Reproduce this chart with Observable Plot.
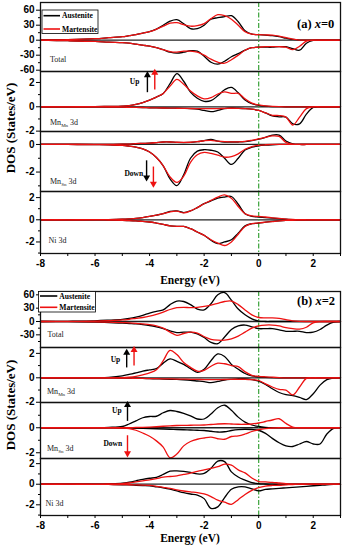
<!DOCTYPE html>
<html><head><meta charset="utf-8">
<script src="https://cdn.jsdelivr.net/npm/d3@7"></script>
<script src="https://cdn.jsdelivr.net/npm/@observablehq/plot@0.6"></script>
<style>
body{margin:0;background:#fff;}
#fig{position:relative;width:348px;height:550px;overflow:hidden;background:#fff;}
#fig svg{position:absolute;left:0;}
</style></head><body><div id="fig"></div>
<script>
// Energy grid (eV)
const energy = [-8,-7,-6,-5.5,-5,-4.75,-4.5,-4.25,-4,-3.75,-3.5,-3.25,-3,-2.75,-2.5,-2.25,-2,-1.75,-1.5,-1.25,-1,-0.75,-0.5,-0.25,0,0.25,0.5,0.75,1,1.25,1.5,1.75,2,2.25,2.5,2.75,3];
const xTicks = [-8,-7,-6,-5,-4,-3,-2,-1,0,1,2,3];

// (a) x=0 — Total
const aTotUpAus = [0,1,3,5,7,9,11,14,17,22,30,38,41,33,23,23,30,42,45,47,49,37,19,12,11,10,9,7,4,1.5,0.3,0,0,0,0,0,0];
const aTotUpMar = [0,1,3,5,7,9,11,14,17,22,28,34,35,31,28,29,33,43,51,49,42,30,17,12,11,10.5,10,8,5,2,0.3,0,0,0,0,0,0];
const aTotDnAus = [0,-1,-2.5,-4,-5,-6,-8,-10,-12,-15,-19,-24,-26,-24,-21,-22,-32,-44,-48,-42,-33,-27,-20,-15,-14,-14,-14,-13,-13,-17,-20,-6,-0.5,0,0,0,0];
const aTotDnMar = [0,-1,-2.5,-4,-5,-6,-8,-10,-12,-15,-19,-23,-24,-22,-22,-24,-30,-38,-44,-46,-39,-30,-20,-15,-14,-13,-13,-13,-14,-19,-12,-2,0,0,0,0,0];
// (a) Mn_Mn 3d
const aMMUpAus = [0,0,0.01,0.03,0.06,0.1,0.2,0.35,0.55,0.8,1.1,1.9,2.72,2.1,1.2,0.7,0.45,0.5,0.9,1.4,1.6,1.15,0.55,0.25,0.12,0.05,0.02,0.01,0,0,0,0,0,0,0,0,0];
const aMMUpMar = [0,0,0.01,0.03,0.06,0.1,0.2,0.35,0.55,0.8,1.1,1.7,2.25,1.85,1.3,0.9,0.65,0.75,1.05,1.22,1.1,1.1,0.65,0.3,0.15,0.07,0.03,0.01,0,0,0,0,0,0,0,0,0];
const aMMDnAus = [0,0,0,-0.02,-0.03,-0.04,-0.05,-0.06,-0.08,-0.09,-0.1,-0.11,-0.12,-0.13,-0.15,-0.2,-0.3,-0.4,-0.3,-0.15,-0.1,-0.12,-0.15,-0.2,-0.3,-0.5,-0.75,-0.82,-0.85,-1.4,-1.4,-0.6,-0.05,0,0,0,0];
const aMMDnMar = [0,0,0,-0.02,-0.03,-0.04,-0.05,-0.06,-0.08,-0.09,-0.1,-0.11,-0.12,-0.13,-0.14,-0.15,-0.15,-0.15,-0.15,-0.13,-0.12,-0.13,-0.15,-0.2,-0.3,-0.5,-0.7,-0.72,-0.85,-1.5,-0.85,-0.15,0,0,0,0,0];
// (a) Mn_Sn 3d
const aMSUpAus = [0,0,0,0.01,0.02,0.03,0.06,0.08,0.1,0.14,0.18,0.18,0.15,0.14,0.15,0.2,0.28,0.36,0.25,0.18,0.18,0.18,0.2,0.28,0.38,0.52,0.68,0.68,0.25,0.05,0,0,0,0,0,0,0];
const aMSUpMar = [0,0,0,0.01,0.02,0.03,0.06,0.08,0.1,0.14,0.18,0.18,0.16,0.15,0.16,0.2,0.27,0.3,0.24,0.2,0.19,0.19,0.22,0.3,0.4,0.52,0.62,0.58,0.15,0.02,0,0,0,0,0,0,0];
const aMSDnAus = [0,0,-0.01,-0.02,-0.06,-0.12,-0.2,-0.32,-0.55,-0.95,-1.55,-2.5,-2.98,-2.2,-1.0,-0.48,-0.38,-0.42,-0.55,-1.0,-1.45,-1.0,-0.4,-0.2,-0.1,-0.05,-0.02,0,0,0,0,0,0,0,0,0,0];
const aMSDnMar = [0,0,-0.01,-0.02,-0.06,-0.12,-0.2,-0.32,-0.55,-0.95,-1.55,-2.35,-2.75,-2.3,-1.3,-0.75,-0.58,-0.65,-0.78,-0.92,-0.88,-0.68,-0.35,-0.15,-0.06,-0.02,0,0,0,0,0,0,0,0,0,0,0];
// (a) Ni 3d
const aNiUpAus = [0,0,0.01,0.02,0.05,0.08,0.12,0.2,0.3,0.42,0.55,0.75,0.8,0.65,0.8,1.1,1.45,1.7,1.95,2.05,2.1,1.4,0.55,0.3,0.25,0.2,0.15,0.1,0.05,0.02,0,0,0,0,0,0,0];
const aNiUpMar = [0,0,0.01,0.02,0.05,0.08,0.12,0.2,0.3,0.42,0.55,0.72,0.78,0.62,0.8,1.1,1.45,1.75,2.05,2.25,1.95,1.2,0.55,0.35,0.3,0.25,0.18,0.12,0.06,0.03,0.01,0,0,0,0,0,0];
const aNiDnAus = [0,0,-0.01,-0.02,-0.05,-0.07,-0.1,-0.15,-0.2,-0.3,-0.42,-0.55,-0.6,-0.6,-0.8,-1.1,-1.4,-1.85,-2.15,-2.0,-1.8,-1.2,-0.55,-0.35,-0.3,-0.22,-0.15,-0.1,-0.06,-0.04,-0.02,-0.01,0,0,0,0,0];
const aNiDnMar = [0,0,-0.01,-0.02,-0.05,-0.07,-0.1,-0.15,-0.2,-0.3,-0.42,-0.55,-0.6,-0.6,-0.8,-1.1,-1.4,-1.8,-2.1,-2.32,-2.0,-1.3,-0.6,-0.35,-0.28,-0.22,-0.16,-0.1,-0.06,-0.04,-0.02,-0.01,0,0,0,0,0];

// (b) x=2 — Total
const bTotUpAus = [0,0.5,1.5,3,5,7,10,14,19,23,26,38,46,45,38,28,26,40,60,65,48,28,15,6,1,0,0,0,0,0,0,0,0,0,0,0,0];
const bTotUpMar = [0,0.3,1,2,3.5,5,7,9,12,16,21,27,31,32,31,32,34,37,41,45,46,38,26,15,9,8,8,7,4,1.5,0.3,0,0,0,0,0,0];
const bTotDnAus = [0,-0.5,-1.5,-2.5,-3.5,-4.5,-5.5,-7,-9,-12,-16,-21,-25,-24,-24,-28,-36,-47,-50,-35,-18,-10,-8,-12,-16,-16,-16,-19,-22,-22,-22,-25,-24,-18,-8,-1.5,0];
const bTotDnMar = [0,-0.3,-1,-1.5,-2.5,-3,-4,-5.5,-7,-10,-15,-24,-31,-27,-24,-26,-34,-40,-42,-42,-39,-33,-24,-15,-10,-8,-8,-10,-14,-16,-17,-13,-3,-0.3,0,0,0];
// (b) Mn_Mn 3d
const bMMUpAus = [0,0,0.01,0.03,0.15,0.28,0.4,0.55,0.65,0.75,1.2,1.55,1.35,1.1,0.75,0.45,0.7,1.4,1.95,1.75,1.1,0.7,0.35,0.15,0.07,0.03,0.01,0,0,0,0,0,0,0,0,0,0];
const bMMUpMar = [0,0,0,0,0.02,0.05,0.12,0.25,0.4,0.65,1.4,2.25,1.9,1.25,0.85,0.55,0.6,0.95,1.2,1.15,1.0,0.92,0.5,0.2,0.12,0.08,0.05,0.02,0,0,0,0,0,0,0,0,0];
const bMMDnAus = [0,0,0,-0.01,-0.02,-0.03,-0.04,-0.05,-0.07,-0.08,-0.1,-0.12,-0.13,-0.16,-0.2,-0.26,-0.32,-0.4,-0.3,-0.18,-0.12,-0.08,-0.08,-0.15,-0.28,-0.55,-0.9,-1.2,-1.38,-1.45,-1.6,-1.78,-1.3,-0.6,-0.15,-0.02,0];
const bMMDnMar = [0,0,0,-0.01,-0.02,-0.03,-0.04,-0.05,-0.06,-0.07,-0.08,-0.09,-0.1,-0.11,-0.12,-0.13,-0.15,-0.15,-0.15,-0.14,-0.12,-0.12,-0.12,-0.15,-0.22,-0.5,-0.75,-0.95,-1.0,-1.4,-0.75,-0.05,0,0,0,0,0];
// (b) Mn_Sn 3d
const bMSUpAus = [0,0,0.01,0.03,0.1,0.3,0.55,0.8,0.9,0.92,1.2,1.38,1.3,1.15,0.95,0.7,0.7,1.1,1.6,1.8,1.4,0.85,0.45,0.22,0.1,0.03,0,0,0,0,0,0,0,0,0,0,0];
const bMSUpMar = [0,0,0,0,0,0.01,0.02,0.03,0.05,0.08,0.12,0.15,0.18,0.19,0.2,0.21,0.22,0.26,0.3,0.32,0.3,0.28,0.28,0.3,0.38,0.5,0.62,0.72,0.35,0.05,0,0,0,0,0,0,0];
const bMSDnAus = [0,0,0,-0.01,-0.02,-0.03,-0.04,-0.05,-0.06,-0.08,-0.1,-0.12,-0.14,-0.16,-0.18,-0.2,-0.22,-0.28,-0.34,-0.32,-0.22,-0.15,-0.12,-0.14,-0.2,-0.45,-0.85,-1.2,-1.45,-1.5,-1.3,-1.1,-1.3,-1.3,-0.5,-0.05,0];
const bMSDnMar = [0,0,0,-0.01,-0.03,-0.07,-0.2,-0.42,-0.68,-1.05,-1.55,-2.4,-2.1,-1.45,-1.1,-0.92,-0.82,-0.75,-0.88,-0.92,-0.7,-0.65,-0.5,-0.3,-0.16,-0.07,-0.02,0,0,0,0,0,0,0,0,0,0];
// (b) Ni 3d
const bNiUpAus = [0,0,0.01,0.04,0.1,0.2,0.33,0.47,0.58,0.66,0.95,1.27,1.3,1.25,1.15,1.0,1.05,1.55,2.25,2.2,1.2,0.7,0.4,0.15,0.05,0.02,0,0,0,0,0,0,0,0,0,0,0];
const bNiUpMar = [0,0,0.01,0.02,0.06,0.12,0.22,0.33,0.43,0.55,0.68,0.75,0.82,0.95,1.08,1.25,1.4,1.55,1.7,1.95,1.85,1.4,1.1,0.6,0.26,0.22,0.18,0.12,0.06,0.02,0,0,0,0,0,0,0];
const bNiDnAus = [0,0,-0.01,-0.02,-0.05,-0.07,-0.1,-0.13,-0.16,-0.25,-0.35,-0.48,-0.65,-0.82,-0.95,-1.05,-1.4,-2.35,-2.2,-1.3,-0.48,-0.25,-0.25,-0.45,-0.65,-0.5,-0.45,-0.4,-0.35,-0.3,-0.25,-0.2,-0.15,-0.1,-0.05,-0.02,0];
const bNiDnMar = [0,0,-0.01,-0.02,-0.04,-0.05,-0.07,-0.09,-0.12,-0.2,-0.3,-0.4,-0.55,-0.66,-0.75,-0.82,-0.95,-1.2,-1.55,-1.75,-1.95,-1.5,-1.0,-0.6,-0.33,-0.18,-0.12,-0.1,-0.06,-0.03,0,0,0,0,0,0,0];

// Annotations (data units): spin arrows and their words
const aUpArrowBlack = [{x: -4.08, y1: 1.2, y2: 2.6}];
const aUpArrowRed = [{x: -3.81, y1: 1.42, y2: 2.8}];
const aUpText = [{x: -4.55, y: 2.1, t: "Up"}];
const aDownArrowBlack = [{x: -4.11, y1: -1.15, y2: -2.4}];
const aDownArrowRed = [{x: -3.86, y1: -1.6, y2: -2.85}];
const aDownText = [{x: -4.58, y: -2.1, t: "Down"}];
const bMMArrowBlack = [{x: -4.84, y1: 0.85, y2: 2.05}];
const bMMArrowRed = [{x: -4.57, y1: 1.0, y2: 2.28}];
const bMMText = [{x: -5.25, y: 1.45, t: "Up"}];
const bMSArrowBlack = [{x: -4.81, y1: 0.55, y2: 1.82}];
const bMSArrowRed = [{x: -4.81, y1: -0.6, y2: -2.05}];
const bMSTexts = [{x: -5.2, y: 1.35, t: "Up"}, {x: -5.35, y: -1.3, t: "Down"}];

const BLACK = "#000", RED = "#ee1111", GREEN = "#3aa33a";
const fig = document.getElementById("fig");

function arrows(data, color) {
  return [
    Plot.link(data, {x1: "x", x2: "x", y1: "y1", y2: "y2", stroke: color, strokeWidth: 1.4}),
    Plot.dot(data, {x: "x", y: "y2", symbol: "triangle", r: 2.6, fill: color, stroke: null,
      rotate: d => (d.y2 > d.y1 ? 0 : 180)})
  ];
}
function notes(data) {
  return Plot.text(data, {x: "x", y: "y", text: "t", fontFamily: "Liberation Serif", fontWeight: "bold", fontSize: 7.5, fill: "#000"});
}

function panel(cfg) {
  const mt = 2, mb = cfg.bottomAxis ? 40 : 2;
  const h = cfg.bottom - cfg.top;
  const marks = [
    Plot.ruleY([0], {stroke: "#222", strokeWidth: 1.3}),
    Plot.ruleX([0], {stroke: GREEN, strokeWidth: 1.2, strokeDasharray: "5,2,1.5,2"}),
    Plot.line(cfg.upAus, {x: energy, y: d => d, stroke: BLACK, strokeWidth: 1.3, curve: "catmull-rom"}),
    Plot.line(cfg.dnAus, {x: energy, y: d => d, stroke: BLACK, strokeWidth: 1.3, curve: "catmull-rom"}),
    Plot.line(cfg.upMar, {x: energy, y: d => d, stroke: RED, strokeWidth: 1.3, curve: "catmull-rom"}),
    Plot.line(cfg.dnMar, {x: energy, y: d => d, stroke: RED, strokeWidth: 1.3, curve: "catmull-rom"}),
    Plot.axisY(cfg.major, {tickSize: 4, tickPadding: 2, tickFormat: d => String(d), fontWeight: "bold", fontSize: 10, label: null}),
    Plot.axisY(cfg.minor, {tickSize: 2, tickFormat: () => "", label: null}),
    Plot.frame({stroke: "#111", strokeWidth: 1.3}),
    ...(cfg.extra || []).flat()
  ];
  if (cfg.bottomAxis) {
    marks.push(Plot.axisX(xTicks, {tickSize: 3, tickPadding: 3, tickFormat: d => (d % 2 === 0 ? String(d) : ""), fontWeight: "bold", fontSize: 10, label: null}));
  }
  const svg = Plot.plot({
    width: 348, height: h + mt + mb,
    marginLeft: 40, marginRight: 8, marginTop: mt, marginBottom: mb,
    x: {domain: [-8, 3], axis: cfg.bottomAxis ? undefined : null},
    y: {domain: cfg.domain},
    style: {background: "none", overflow: "visible", fontFamily: "Liberation Sans, Arial, sans-serif", color: "#000"},
    marks
  });
  svg.style.top = (cfg.top - mt) + "px";
  fig.appendChild(svg);
}

const panels = [
  {top: 2, bottom: 71, domain: [-62.6, 75.4], major: [-60,-30,0,30,60], minor: [-45,-15,15,45], upAus: aTotUpAus, dnAus: aTotDnAus, upMar: aTotUpMar, dnMar: aTotDnMar},
  {top: 71, bottom: 131, domain: [-2.03, 2.9], major: [-2,0,2], minor: [-1,1], upAus: aMMUpAus, dnAus: aMMDnAus, upMar: aMMUpMar, dnMar: aMMDnMar,
   extra: [arrows(aUpArrowBlack, BLACK), arrows(aUpArrowRed, RED), notes(aUpText)]},
  {top: 131, bottom: 191, domain: [-3.41, 0.94], major: [-2,0], minor: [-3,-1], upAus: aMSUpAus, dnAus: aMSDnAus, upMar: aMSUpMar, dnMar: aMSDnMar,
   extra: [arrows(aDownArrowBlack, BLACK), arrows(aDownArrowRed, RED), notes(aDownText)]},
  {top: 191, bottom: 253, domain: [-3.04, 2.55], major: [-2,0,2], minor: [-3,-1,1], upAus: aNiUpAus, dnAus: aNiDnAus, upMar: aNiUpMar, dnMar: aNiDnMar, bottomAxis: true},
  {top: 291, bottom: 347, domain: [-58.5, 67.5], major: [-30,0,30,60], minor: [-45,-15,15,45], upAus: bTotUpAus, dnAus: bTotDnAus, upMar: bTotUpMar, dnMar: bTotDnMar},
  {top: 347, bottom: 402, domain: [-2.02, 2.48], major: [-2,0,2], minor: [-1,1], upAus: bMMUpAus, dnAus: bMMDnAus, upMar: bMMUpMar, dnMar: bMMDnMar,
   extra: [arrows(bMMArrowBlack, BLACK), arrows(bMMArrowRed, RED), notes(bMMText)]},
  {top: 402, bottom: 458, domain: [-2.46, 2.02], major: [-2,0], minor: [-1,1], upAus: bMSUpAus, dnAus: bMSDnAus, upMar: bMSUpMar, dnMar: bMSDnMar,
   extra: [arrows(bMSArrowBlack, BLACK), arrows(bMSArrowRed, RED), notes(bMSTexts)]},
  {top: 458, bottom: 515, domain: [-3.04, 2.5], major: [-2,0,2], minor: [-3,-1,1], upAus: bNiUpAus, dnAus: bNiDnAus, upMar: bNiUpMar, dnMar: bNiDnMar, bottomAxis: true}
];
panels.forEach(panel);

// Overlay: titles, legends, panel labels
const ov = d3.select(fig).append("svg").attr("width", 348).attr("height", 550)
  .style("top", "0px").style("pointer-events", "none");
const serif = "Liberation Serif, Times New Roman, serif";

function yTitle(cy) {
  ov.append("text").attr("transform", `translate(10,${cy}) rotate(-90)`)
    .attr("text-anchor", "middle").attr("dominant-baseline", "central")
    .attr("font-family", serif).attr("font-weight", "bold").attr("font-size", 13)
    .text("DOS (States/eV)");
}
yTitle(128); yTitle(405);

function xTitle(cy) {
  ov.append("text").attr("x", 190).attr("y", cy).attr("text-anchor", "middle").attr("dominant-baseline", "central")
    .attr("font-family", serif).attr("font-weight", "bold").attr("font-size", 11.5).text("Energy (eV)");
}
xTitle(280); xTitle(538);

function figLabel(x, y, pre, val) {
  const t = ov.append("text").attr("x", x).attr("y", y).attr("font-family", serif).attr("font-weight", "bold").attr("font-size", 12.5);
  t.append("tspan").text(pre + " ");
  t.append("tspan").attr("font-style", "italic").text("x");
  t.append("tspan").text("=" + val);
}
figLabel(297, 27.5, "(a)", "0");
figLabel(297, 305, "(b)", "2");

function legend(x, y, w, h, y1, y2, lx1, lx2, tx) {
  ov.append("rect").attr("x", x).attr("y", y).attr("width", w).attr("height", h).attr("fill", "#fff").attr("stroke", "#000").attr("stroke-width", 0.8);
  [[y1, BLACK, "Austenite"], [y2, RED, "Martensite"]].forEach(([yy, c, s]) => {
    ov.append("line").attr("x1", lx1).attr("x2", lx2).attr("y1", yy).attr("y2", yy).attr("stroke", c).attr("stroke-width", 1.6);
    ov.append("text").attr("x", tx).attr("y", yy + 2.7).attr("font-family", serif).attr("font-weight", "bold").attr("font-size", 7.6).text(s);
  });
}
legend(42, 10, 56, 23.5, 15.7, 29, 43.5, 60, 62);
legend(38.5, 291.5, 57, 20.5, 296, 307.3, 40, 57.3, 59.3);

function panelLabel(x, y, main, sub, tail) {
  const t = ov.append("text").attr("x", x).attr("y", y).attr("font-family", serif).attr("font-size", 8).attr("fill", "#222");
  t.append("tspan").text(main);
  if (sub) {
    t.append("tspan").attr("font-size", 5).attr("dy", 2).text(sub);
    t.append("tspan").attr("dy", -2).text(tail);
  }
}
panelLabel(50, 62, "Total");
panelLabel(50, 125, "Mn", "Mn", " 3d");
panelLabel(50, 184, "Mn", "Sn", " 3d");
panelLabel(48.5, 243, "Ni 3d");
panelLabel(47.5, 337, "Total");
panelLabel(47, 394, "Mn", "Mn", " 3d");
panelLabel(47, 451, "Mn", "Sn", " 3d");
panelLabel(45.5, 506, "Ni 3d");
</script></body></html>
